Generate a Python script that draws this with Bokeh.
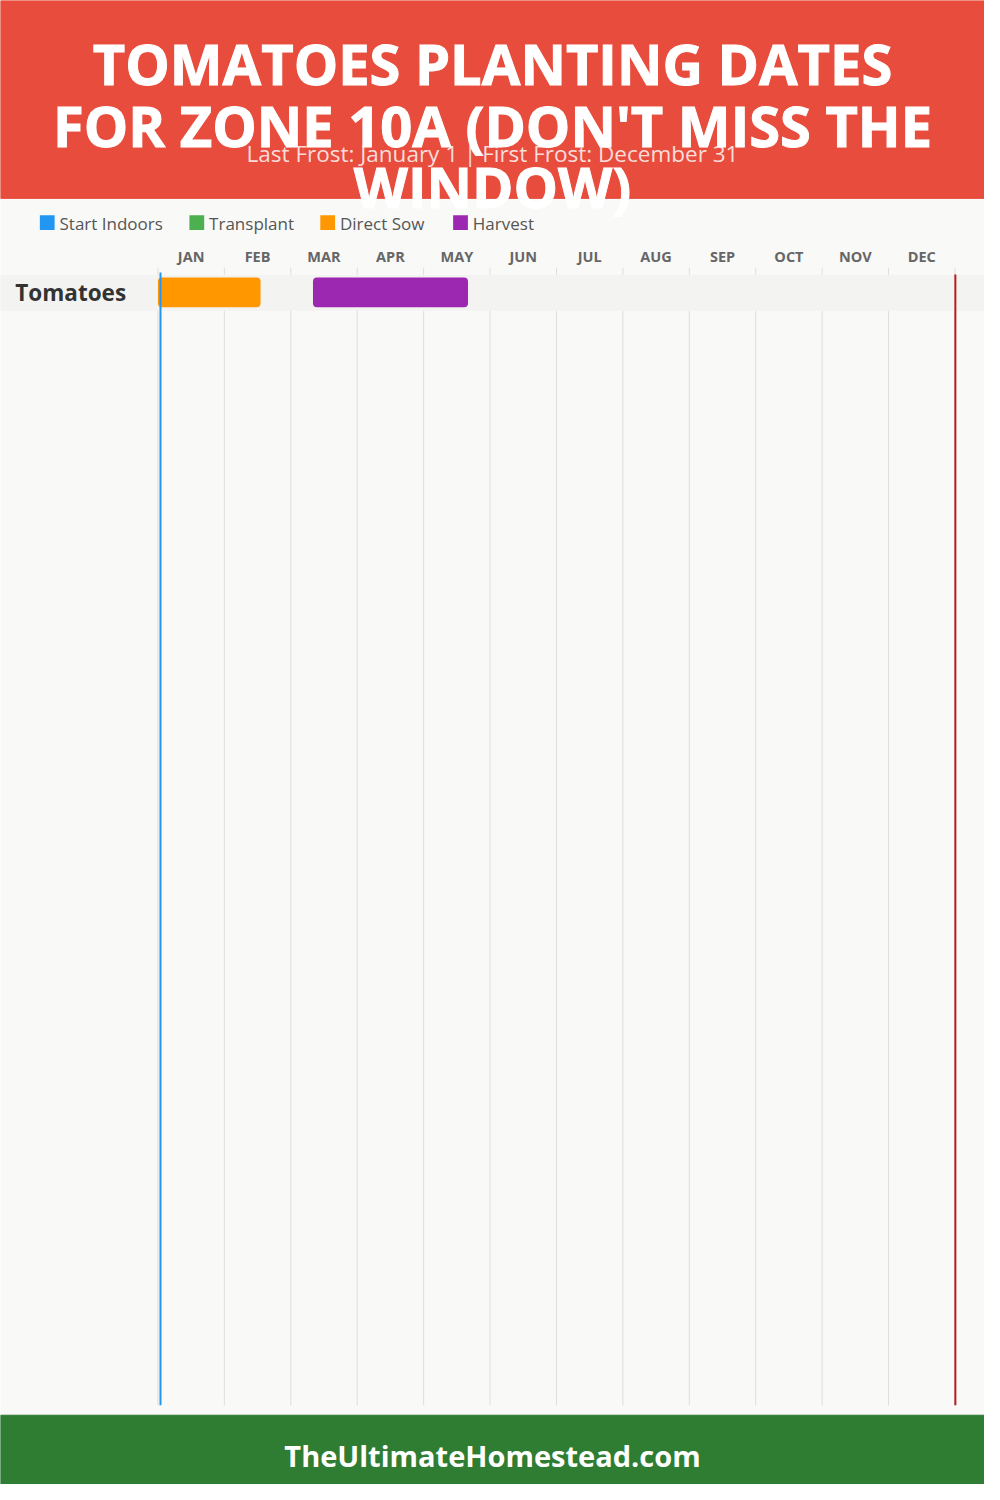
from bokeh.plotting import figure
from bokeh.models import Range1d
from bokeh.core.properties import value
from bokeh.embed import file_html
from bokeh.resources import INLINE
import datetime

# ---------------- data ----------------
TITLE_LINES = ["TOMATOES PLANTING DATES", "FOR ZONE 10A (DON'T MISS THE", "WINDOW)"]
SUBTITLE = "Last Frost: January 1 | First Frost: December 31"
FOOTER = "TheUltimateHomestead.com"
MONTHS = ["JAN", "FEB", "MAR", "APR", "MAY", "JUN", "JUL", "AUG", "SEP", "OCT", "NOV", "DEC"]
LEGEND_LABELS = ["Start Indoors", "Transplant", "Direct Sow", "Harvest"]
LEGEND_COLORS = ["#2196F3", "#4CAF50", "#FF9800", "#9C27B0"]
CROPS = ["Tomatoes"]
TASK_CROP = ["Tomatoes", "Tomatoes"]
TASK_TYPE = ["Direct Sow", "Harvest"]
TASK_START = ["01-01", "03-13"]
TASK_END = ["02-16", "05-22"]
LAST_FROST = "01-01"
FIRST_FROST = "12-31"
YEAR = 2023

# ---------------- layout ----------------
W, H, M = 1000, 1500, 8
CHART_L, CHART_R = 160, 970
DAYS = 365
DAY_PX = (CHART_R - CHART_L) / DAYS
ROW_TOP, ROW_H = 278, 35
FONT = "Open Sans"


def doy(s):
    mo, d = map(int, s.split("-"))
    return datetime.date(YEAR, mo, d).timetuple().tm_yday


p = figure(width=W - 2 * M, height=H - 2 * M,
           x_range=Range1d(0, W), y_range=Range1d(H, 0),
           output_backend="svg", toolbar_location=None, min_border=0)
p.extra_x_ranges = {"days": Range1d((0 - CHART_L) / DAY_PX, (W - CHART_L) / DAY_PX)}
p.extra_y_ranges = {"rows": Range1d((H - ROW_TOP) / ROW_H, (0 - ROW_TOP) / ROW_H)}
p.axis.visible = False
p.xgrid.visible = False
p.ygrid.visible = False
p.outline_line_color = None
p.background_fill_color = "#F9F9F7"
p.border_fill_color = "#F9F9F7"

# header / footer
p.quad(left=0, right=W, top=0, bottom=200, color="#E74C3C")
p.quad(left=0, right=W, top=1430, bottom=H, color="#2E7D32")

# month grid
grid_x = [k * DAYS / 12 for k in range(13)]
p.segment(x0=grid_x, x1=grid_x, y0=270, y1=1420, x_range_name="days",
          line_color="#DEDEDE", line_width=1)

# row bands
rows = list(range(len(CROPS)))
p.quad(left=0, right=W, top=rows, bottom=[r + 1 for r in rows],
       y_range_name="rows", color="#F3F3F1")

# task bars
color_of = dict(zip(LEGEND_LABELS, LEGEND_COLORS))
bl = [doy(s) - 1 for s in TASK_START]
br = [doy(e) for e in TASK_END]
bi = [CROPS.index(c) for c in TASK_CROP]
p.quad(left=bl, right=br, top=[i + 2 / ROW_H for i in bi], bottom=[i + 1 - 3 / ROW_H for i in bi],
       x_range_name="days", y_range_name="rows",
       fill_color=[color_of[t] for t in TASK_TYPE], line_color=None, border_radius=4)

# frost lines
off = 2.6 / DAY_PX
lf = doy(LAST_FROST) - 1 + off
ff = doy(FIRST_FROST) - 1 + off
p.segment(x0=[lf], x1=[lf], y0=[275], y1=[1420], x_range_name="days",
          line_color="#2196F3", line_width=2)
p.segment(x0=[ff], x1=[ff], y0=[277], y1=[1420], x_range_name="days",
          line_color="#B71C1C", line_width=2)

# title
p.text(x=[W / 2] * len(TITLE_LINES), y=[63 + 62.5 * i for i in range(len(TITLE_LINES))],
       text=TITLE_LINES, text_align="center", text_baseline="middle",
       text_font=value(FONT), text_font_style="bold", text_font_size="56px",
       text_color="white", text_outline_color="white")
p.text(x=[W / 2], y=[155], text=[SUBTITLE], text_align="center", text_baseline="middle",
       text_font=value(FONT), text_font_size="22.5px", text_color="white", text_alpha=0.82)

# legend
leg_x = [40, 192, 325, 460]
p.quad(left=leg_x, right=[x + 15 for x in leg_x], top=217, bottom=232,
       fill_color=LEGEND_COLORS, line_color=None)
p.text(x=[x + 20 for x in leg_x], y=225, text=LEGEND_LABELS, text_align="left",
       text_baseline="middle", text_font=value(FONT), text_font_size="17px",
       text_color="#555555")

# month labels
mid = [(k + 0.5) * DAYS / 12 for k in range(12)]
p.text(x=mid, y=259, text=MONTHS, x_range_name="days", text_align="center",
       text_baseline="middle", text_font=value(FONT), text_font_style="bold",
       text_font_size="14.5px", text_color="#666666")

# crop names
p.text(x=15, y=[r + 0.5 for r in rows], text=CROPS, y_range_name="rows",
       text_align="left", text_baseline="middle", text_font=value(FONT),
       text_font_style="bold", text_font_size="22.5px", text_color="#333333")

# footer
p.text(x=[W / 2], y=[1471], text=[FOOTER], text_align="center", text_baseline="middle",
       text_font=value(FONT), text_font_style="bold", text_font_size="29px",
       text_color="white")

open("out.html", "w").write(file_html(p, INLINE))
